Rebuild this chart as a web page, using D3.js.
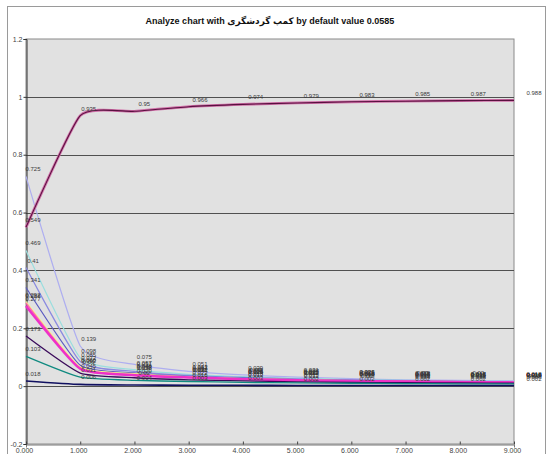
<!DOCTYPE html>
<html><head><meta charset="utf-8">
<script src="https://cdn.jsdelivr.net/npm/d3@7/dist/d3.min.js"></script>
<style>
body{margin:0;background:#fff}
svg{display:block;font-family:"Liberation Sans","DejaVu Sans",Arial,sans-serif}
</style>
</head><body>
<svg id="chart" width="551" height="454"></svg>
<script>
const titleText = "Analyze chart with کمپ گردشگری by default value 0.0585";
const xValues = [0,1,2,3,4,5,6,7,8,9];
const xTickLabels = ["0.000","1.000","2.000","3.000","4.000","5.000","6.000","7.000","8.000","9.000"];
const yTicks = [-0.2,0,0.2,0.4,0.6,0.8,1,1.2];
const yTickLabels = ["-0.2","0","0.2","0.4","0.6","0.8","1","1.2"];

// series values (one array per line)
const sLavender = [0.725,0.139,0.075,0.051,0.039,0.031,0.026,0.022,0.020,0.018];
const sCyan     = [0.469,0.098,0.057,0.041,0.033,0.027,0.023,0.020,0.018,0.016];
const sSlate    = [0.41,0.085,0.051,0.037,0.030,0.025,0.021,0.019,0.017,0.015];
const sBlue     = [0.341,0.072,0.046,0.034,0.028,0.023,0.020,0.018,0.016,0.014];
const sYellow   = [0.292,0.066,0.043,0.032,0.026,0.022,0.019,0.017,0.015,0.014];
const sPink     = [0.288,0.062,0.040,0.031,0.025,0.021,0.018,0.016,0.015,0.013];
const sMagenta  = [0.277,0.060,0.038,0.030,0.024,0.020,0.018,0.016,0.014,0.013];
const sPurple   = [0.173,0.045,0.029,0.022,0.018,0.015,0.013,0.012,0.011,0.010];
const sTeal     = [0.103,0.031,0.020,0.016,0.013,0.011,0.010,0.009,0.008,0.008];
const sNavy     = [0.018,0.006,0.004,0.003,0.003,0.002,0.002,0.002,0.002,0.002];
const sUpperA   = [0.549,0.935,0.95,0.966,0.974,0.979,0.983,0.985,0.987,0.988];
const sUpperB   = [0.549,0.935,0.95,0.966,0.974,0.979,0.983,0.985,0.987,0.988];

const seriesList = [
  {values:sLavender, color:"#aeaef0", width:1.2, label:true},
  {values:sCyan,     color:"#9adede", width:1.2, label:true},
  {values:sSlate,    color:"#8a8ae0", width:1.2, label:true},
  {values:sBlue,     color:"#5a5ac0", width:1.2, label:true},
  {values:sYellow,   color:"#f6f68a", width:1.4, label:true},
  {values:sPink,     color:"#ff6aa8", width:1.4, label:true},
  {values:sMagenta,  color:"#ee30c8", width:2.5, label:true},
  {values:sPurple,   color:"#3a0a5a", width:1.3, label:true},
  {values:sTeal,     color:"#108a80", width:1.3, label:true},
  {values:sNavy,     color:"#101060", width:1.6, label:true},
  {values:sUpperA,   color:"#d070a8", width:2.8, label:true},
  {values:sUpperB,   color:"#5a1040", width:1.1, label:false}
];

const m = {left:26, right:514, top:39, bottom:444};
const svg = d3.select("#chart");

const x = d3.scaleLinear().domain([0,9]).range([m.left, m.right]);
const y = d3.scaleLinear().domain([-0.2,1.2]).range([m.bottom, m.top]);
// data labels in the reference drift rightwards: own placement scale
const xLab = d3.scaleLinear().domain([0,9]).range([33, 534]);

// outer frame
svg.append("rect").attr("x",7.5).attr("y",6.5).attr("width",538).attr("height",460)
  .attr("fill","#fff").attr("stroke","#9a9a9a");

// title
svg.append("text").attr("x",270).attr("y",24).attr("text-anchor","middle")
  .attr("font-size",9).attr("font-weight","bold").attr("fill","#111").text(titleText);

// plot background
svg.append("rect").attr("x",m.left).attr("y",m.top).attr("width",m.right-m.left).attr("height",m.bottom-m.top)
  .attr("fill","#e1e1e1").attr("stroke","#8a8a8a");

// gridlines
svg.append("g").selectAll("line").data(yTicks.filter(v=>v>-0.2 && v<1.2)).join("line")
  .attr("x1",m.left).attr("x2",m.right)
  .attr("y1",d=>Math.round(y(d))+0.5).attr("y2",d=>Math.round(y(d))+0.5)
  .attr("stroke","#505050").attr("stroke-width",1);

// y axis
const yAxis = d3.axisLeft(y).tickValues(yTicks).tickSize(3)
  .tickFormat((d,i)=>yTickLabels[i]);
const gy = svg.append("g").attr("transform",`translate(${m.left+0.5},0)`).call(yAxis);
gy.select(".domain").attr("stroke","#333");
gy.selectAll(".tick line").attr("stroke","#333");
gy.selectAll(".tick text").attr("font-size",7).attr("fill","#444").attr("font-family","Liberation Sans, Arial, sans-serif").attr("x",-4);

// x axis
const xAxis = d3.axisBottom(x).tickValues(xValues).tickSize(3)
  .tickFormat((d,i)=>xTickLabels[i]);
const gx = svg.append("g").attr("transform",`translate(0,${m.bottom+0.5})`).call(xAxis);
gx.select(".domain").attr("stroke","#777");
gx.selectAll(".tick line").attr("stroke","#444").attr("transform","translate(0,-3)");
gx.selectAll(".tick text").attr("font-size",7).attr("fill","#444").attr("font-family","Liberation Sans, Arial, sans-serif").attr("y",4).attr("dx",-2);

// lines
const line = d3.line().x((d,i)=>x(xValues[i])).y(d=>y(d)).curve(d3.curveCardinal.tension(0.5));
const gl = svg.append("g");
seriesList.forEach(s=>{
  gl.append("path").attr("d",line(s.values)).attr("fill","none")
    .attr("stroke",s.color).attr("stroke-width",s.width).attr("stroke-linejoin","round");
});

// data labels
const gt = svg.append("g").attr("font-size",6).attr("fill","#3a3a3a").attr("text-anchor","middle")
  .attr("font-family","Liberation Sans, Arial, sans-serif");
seriesList.filter(s=>s.label).forEach(s=>{
  gt.selectAll(null).data(s.values).join("text")
    .attr("x",(d,i)=>xLab(xValues[i]))
    .attr("y",d=>y(d)-5)
    .text(d=>String(d));
});
</script>
</body></html>
